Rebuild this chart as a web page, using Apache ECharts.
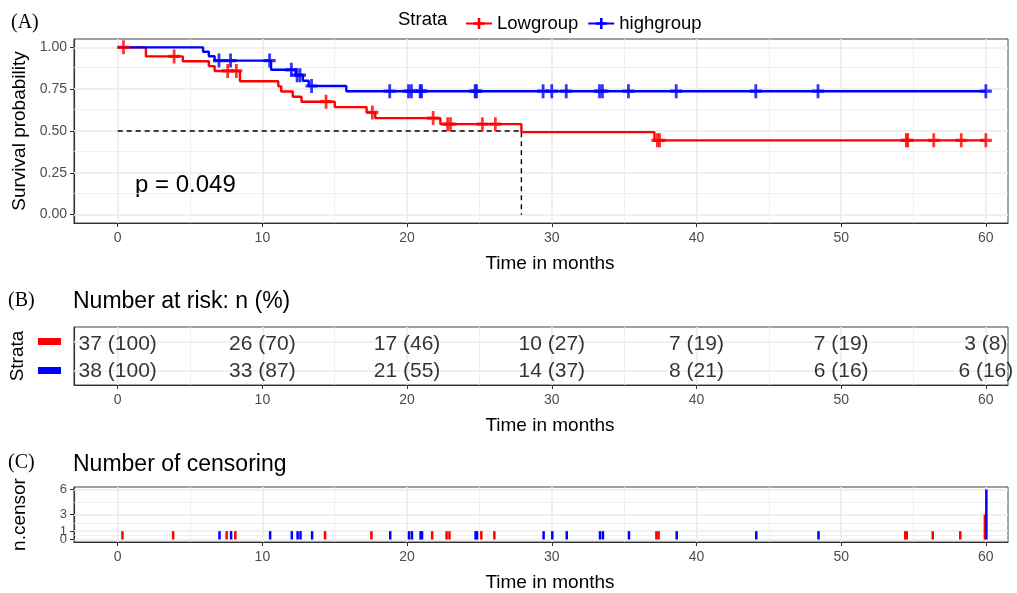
<!DOCTYPE html>
<html><head><meta charset="utf-8">
<script src="https://cdn.jsdelivr.net/npm/echarts@6/dist/echarts.min.js"></script>
<style>html,body{margin:0;padding:0;background:#fff}#c{width:1017px;height:593px}</style>
</head><body><div id="c"></div>
<script>
// ---------- data ----------
const groups = ['Lowgroup', 'highgroup'];
const groupColors = ['#FF0000', '#0000FF'];
const lowStepTimes = [0, 1.95, 4.5, 6.3, 6.7, 8.45, 11.1, 11.3, 12.1, 12.7, 15.0, 17.2, 17.8, 22.3, 27.9, 37.1, 60];
const lowStepSurv  = [1, 0.946, 0.917, 0.888, 0.859, 0.797, 0.767, 0.736, 0.705, 0.675, 0.643, 0.611, 0.577, 0.541, 0.493, 0.444, 0.444];
const highStepTimes = [0, 5.9, 6.3, 6.7, 10.6, 12.3, 12.8, 13.2, 15.8, 60];
const highStepSurv  = [1, 0.974, 0.947, 0.921, 0.866, 0.834, 0.80, 0.769, 0.738, 0.738];
const lowCensorTimes  = [0.4, 3.9, 7.6, 8.2, 14.4, 17.6, 21.8, 22.8, 23.0, 25.2, 26.1, 37.3, 37.45, 54.5, 54.6, 56.4, 58.3, 60];
const lowCensorCounts = [1, 1, 1, 1, 1, 1, 1, 1, 1, 1, 1, 1, 1, 1, 1, 1, 1, 3];
const highCensorTimes  = [7.0, 7.8, 10.5, 12.0, 12.4, 12.6, 13.4, 18.8, 20.1, 20.3, 20.9, 21.0, 24.7, 24.8, 29.4, 30.0, 31.0, 33.3, 33.5, 35.3, 38.6, 44.1, 48.4, 60];
const highCensorCounts = [1, 1, 1, 1, 1, 1, 1, 1, 1, 1, 1, 1, 1, 1, 1, 1, 1, 1, 1, 1, 1, 1, 1, 6];
const riskTimes = [0, 10, 20, 30, 40, 50, 60];
const lowRiskN   = [37, 26, 17, 10, 7, 7, 3];
const lowRiskPct = [100, 70, 46, 27, 19, 19, 8];
const highRiskN   = [38, 33, 21, 14, 8, 6, 6];
const highRiskPct = [100, 87, 55, 37, 21, 16, 16];
const timeTicks = [0, 10, 20, 30, 40, 50, 60];
const survTicks = [0, 0.25, 0.5, 0.75, 1];
const survTickLabels = ['0.00', '0.25', '0.50', '0.75', '1.00'];
const censorTicks = [0, 1, 3, 6];
const medianTime = 27.9;
const medianSurv = 0.5;
const pValueText = 'p = 0.049';

// ---------- helpers ----------
const FONT = 'Liberation Sans, Arial, sans-serif';
const plusPath = 'path://M5,0h3v5h5v3h-5v5h-3v-5h-5v-3h5z';
function stepAt(times, surv, t) { let v = surv[0]; for (let i = 0; i < times.length; i++) if (times[i] <= t) v = surv[i]; return v; }
function mids(arr) { const r = []; for (let i = 0; i < arr.length - 1; i++) r.push((arr[i] + arr[i + 1]) / 2); return r; }
const XMIN = -3.02, XMAX = 61.53;
const GL = 74, GW = 934;
const majorC = '#EBEBEB';

function gridLines(xIdx, yIdx, xMajor, xMinor, yMajor, yMinor, extraY) {
  const d = [];
  xMajor.forEach(v => d.push({ xAxis: v, lineStyle: { color: majorC, width: 1.6, type: 'solid' } }));
  xMinor.forEach(v => d.push({ xAxis: v, lineStyle: { color: majorC, width: 0.8, type: 'solid' } }));
  yMajor.forEach(v => d.push({ yAxis: v, lineStyle: { color: majorC, width: 1.6, type: 'solid' } }));
  yMinor.forEach(v => d.push({ yAxis: v, lineStyle: { color: majorC, width: 0.8, type: 'solid' } }));
  return { type: 'line', xAxisIndex: xIdx, yAxisIndex: yIdx, data: [[0, extraY]], symbol: 'none', lineStyle: { opacity: 0 }, silent: true, z: 0,
    markLine: { silent: true, z: 1, symbol: 'none', label: { show: false }, animation: false, data: d } };
}
function xAxisDef(idx) {
  return { type: 'value', gridIndex: idx, min: XMIN, max: XMAX,
    axisLine: { show: true, onZero: false, lineStyle: { color: '#333', width: 1.2 } },
    axisTick: { show: true, customValues: timeTicks, length: 4, lineStyle: { color: '#333' } },
    axisLabel: { customValues: timeTicks, color: '#4D4D4D', fontSize: 14, fontFamily: FONT, margin: 8 },
    splitLine: { show: false },
    name: 'Time in months', nameLocation: 'middle', nameGap: 31,
    nameTextStyle: { color: '#000', fontSize: 19, fontFamily: FONT, padding: [0, 0, 0, 18] } };
}

const kmLine = (times, surv, gi) => ({
  name: groups[gi], type: 'line', xAxisIndex: 0, yAxisIndex: 0, step: 'end', z: 4,
  data: times.map((t, i) => [t, surv[i]]), symbol: plusPath, symbolSize: [12, 14], showSymbol: false,
  lineStyle: { color: groupColors[gi], width: 2.4 }, itemStyle: { color: groupColors[gi] }, animation: false
});
const kmMarks = (cTimes, times, surv, gi) => ({
  type: 'scatter', xAxisIndex: 0, yAxisIndex: 0, z: 5, symbol: plusPath, symbolSize: [12, 14],
  data: cTimes.map(t => [t, stepAt(times, surv, t)]), itemStyle: { color: groupColors[gi] }, animation: false
});
const riskText = (nArr, pArr, gi) => ({
  type: 'scatter', xAxisIndex: 1, yAxisIndex: 1, symbolSize: 0, z: 5,
  data: riskTimes.map((t, i) => [t, gi === 0 ? 1 : 0, nArr[i] + ' (' + pArr[i] + ')']),
  label: { show: true, position: 'inside', offset: [0, gi === 0 ? 3 : 1], formatter: p => p.value[2], color: '#000', fontSize: 21, fontFamily: FONT },
  animation: false
});
const censorBars = (cTimes, cCounts, gi, off) => ({
  type: 'custom', xAxisIndex: 2, yAxisIndex: 2, z: 4 + gi,
  data: cTimes.map((t, i) => [t, cCounts[i]]),
  renderItem: (params, api) => {
    const p0 = api.coord([api.value(0), 0]); const p1 = api.coord([api.value(0), api.value(1)]);
    return { type: 'rect', shape: { x: p0[0] - 1.25 + off, y: p1[1], width: 2.5, height: p0[1] - p1[1] }, style: { fill: groupColors[gi] } };
  }, animation: false
});
const censorLabelA = censorTicks.filter((v, i) => i % 2 === 0); // 0, 3
const censorLabelB = censorTicks.filter((v, i) => i % 2 === 1); // 1, 6

const chart = echarts.init(document.getElementById('c'), null, { renderer: 'canvas' });
const option = {
  backgroundColor: '#fff',
  animation: false,
  textStyle: { fontFamily: FONT },
  legend: {
    data: groups, left: 460, top: 9, itemWidth: 26, itemHeight: 14, itemGap: 9,
    textStyle: { fontSize: 18.5, fontFamily: FONT, color: '#000' }
  },
  grid: [
    { left: GL, top: 39, width: GW, height: 184, show: true, borderColor: '#444', borderWidth: 1 },
    { left: GL, top: 327, width: GW, height: 58, show: true, borderColor: '#444', borderWidth: 1 },
    { left: GL, top: 487, width: GW, height: 58, show: true, borderColor: '#444', borderWidth: 1 }
  ],
  xAxis: [xAxisDef(0), xAxisDef(1), xAxisDef(2)],
  yAxis: [
    { type: 'value', gridIndex: 0, min: -0.05, max: 1.05,
      axisLine: { show: true, onZero: false, lineStyle: { color: '#333', width: 1.2 } },
      axisTick: { show: true, customValues: survTicks, length: 4, lineStyle: { color: '#333' } },
      axisLabel: { customValues: survTicks, formatter: v => survTickLabels[survTicks.indexOf(v)] ?? v.toFixed(2), color: '#4D4D4D', fontSize: 14, fontFamily: FONT, margin: 7 },
      splitLine: { show: false },
      name: 'Survival probability', nameLocation: 'middle', nameGap: 45, nameRotate: 90,
      nameTextStyle: { color: '#000', fontSize: 19, fontFamily: FONT } },
    { type: 'category', gridIndex: 1, data: ['highgroup', 'Lowgroup'],
      axisLine: { show: true, onZero: false, lineStyle: { color: '#333', width: 1.2 } },
      axisTick: { show: false },
      axisLabel: { margin: 13, formatter: v => v === 'Lowgroup' ? '{l|}' : '{h|}',
        rich: { l: { width: 23, height: 7, backgroundColor: groupColors[0] }, h: { width: 23, height: 7, backgroundColor: groupColors[1] } } },
      splitLine: { show: false },
      name: 'Strata', nameLocation: 'middle', nameGap: 45, nameRotate: 90,
      nameTextStyle: { color: '#000', fontSize: 19, fontFamily: FONT } },
    { type: 'value', gridIndex: 2, min: -0.3, max: 6.3,
      axisLine: { show: true, onZero: false, lineStyle: { color: '#333', width: 1.2 } },
      axisTick: { show: true, customValues: censorTicks, length: 4, lineStyle: { color: '#333' } },
      axisLabel: { customValues: censorLabelA, color: '#4D4D4D', fontSize: 13, fontFamily: FONT, margin: 7 },
      splitLine: { show: false },
      name: 'n.censor', nameLocation: 'middle', nameGap: 45, nameRotate: 90,
      nameTextStyle: { color: '#000', fontSize: 19, fontFamily: FONT } },
    { type: 'value', gridIndex: 2, min: -0.3, max: 6.3, position: 'left',
      axisLine: { show: false, onZero: false }, axisTick: { show: false },
      axisLabel: { customValues: censorLabelB, color: '#4D4D4D', fontSize: 13, fontFamily: FONT, margin: 7 },
      splitLine: { show: false } }
  ],
  graphic: [
    { type: 'text', left: 11, top: 13, style: { text: '(A)', font: '20px "Liberation Serif", serif', fill: '#000' } },
    { type: 'text', left: 8, top: 291, style: { text: '(B)', font: '20px "Liberation Serif", serif', fill: '#000' } },
    { type: 'text', left: 8, top: 453, style: { text: '(C)', font: '20px "Liberation Serif", serif', fill: '#000' } },
    { type: 'text', left: 398, top: 10, style: { text: 'Strata', font: '18.5px ' + FONT, fill: '#000' } },
    { type: 'text', left: 73, top: 290, style: { text: 'Number at risk: n (%)', font: '23px ' + FONT, fill: '#000' } },
    { type: 'text', left: 73, top: 453, style: { text: 'Number of censoring', font: '23px ' + FONT, fill: '#000' } },
    { type: 'text', left: 135, top: 173, style: { text: pValueText, font: '24px ' + FONT, fill: '#000' } }
  ],
  series: [
    gridLines(0, 0, timeTicks, mids(timeTicks), survTicks, mids(survTicks), 0),
    gridLines(1, 1, timeTicks, mids(timeTicks), [], [], 'Lowgroup'),
    gridLines(2, 2, timeTicks, mids(timeTicks), censorTicks, mids(censorTicks), 0),
    { type: 'line', xAxisIndex: 0, yAxisIndex: 0, z: 3, symbol: 'none', data: [[0, medianSurv], [medianTime, medianSurv], [medianTime, 0]],
      lineStyle: { color: '#000', width: 1.4, type: [5, 4] }, silent: true, animation: false },
    kmLine(lowStepTimes, lowStepSurv, 0),
    kmLine(highStepTimes, highStepSurv, 1),
    kmMarks(lowCensorTimes, lowStepTimes, lowStepSurv, 0),
    kmMarks(highCensorTimes, highStepTimes, highStepSurv, 1),
    riskText(lowRiskN, lowRiskPct, 0),
    riskText(highRiskN, highRiskPct, 1),
    censorBars(highCensorTimes, highCensorCounts, 1, 0.5),
    censorBars(lowCensorTimes, lowCensorCounts, 0, -1)
  ]
};
// table horizontal grid lines at category rows
option.series[1].markLine.data.push({ yAxis: 'Lowgroup', lineStyle: { color: majorC, width: 1.6, type: 'solid' } });
option.series[1].markLine.data.push({ yAxis: 'highgroup', lineStyle: { color: majorC, width: 1.6, type: 'solid' } });
chart.setOption(option);
</script></body></html>
